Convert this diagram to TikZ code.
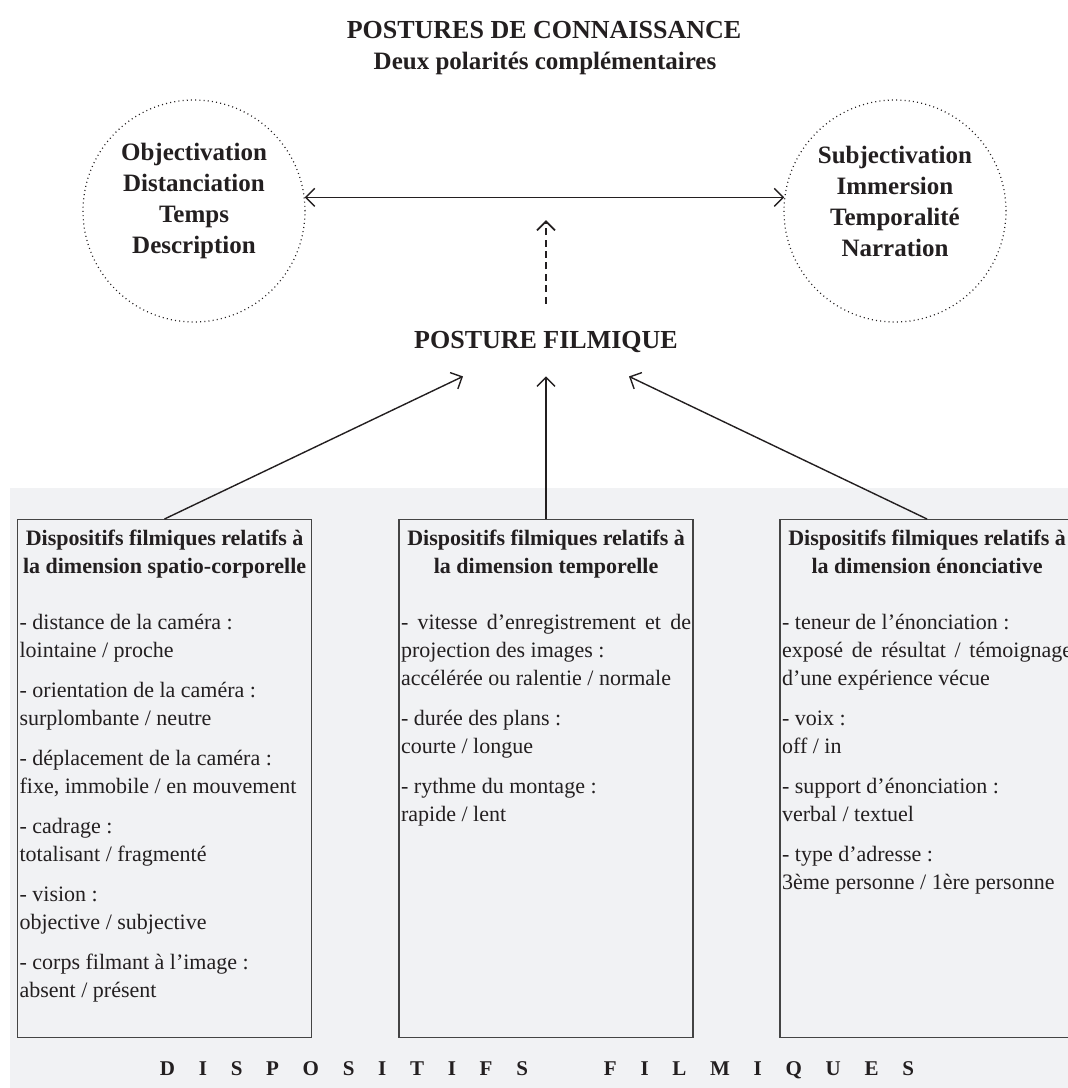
\documentclass[tikz,border=0pt]{standalone}
\usepackage{fontspec}
\setmainfont{Liberation Serif}
\newfontfamily\espace[LetterSpace=113]{Liberation Serif}
\usetikzlibrary{arrows.meta}

\definecolor{encre}{HTML}{231F20}
\definecolor{fond}{HTML}{F1F2F4}
\definecolor{cadre}{HTML}{444444}

\newcommand{\justif}{\parindent=0pt\leftskip=0pt\rightskip=0pt\spaceskip=0pt\xspaceskip=0pt\parfillskip=0pt plus 1fil\parskip=0pt}
\newcommand{\entete}[2]{{\centering\bfseries #1\\#2\par}\parskip=6pt\vspace{8pt}}

\tikzset{
  pole/.style={circle, draw=encre, dash pattern=on 0.5pt off 1.6pt, line width=0.6pt, minimum size=111pt, inner sep=0pt},
  poletxt/.style={align=center, font=\fontsize{12.5}{15.5}\selectfont\bfseries},
  titre/.style={font=\fontsize{13}{16}\selectfont\bfseries},
  boite/.style={rectangle, draw=cadre, line width=0.6pt, minimum width=147pt, minimum height=259pt, anchor=north, inner sep=0pt},
  contenu/.style={anchor=north west, text width=145pt, inner xsep=1pt, inner ysep=0pt, font=\fontsize{11}{14}\selectfont}
}

\begin{document}
\begin{tikzpicture}[x=0.5pt, y=-0.5pt, every node/.style={text=encre}, >={Straight Barb[length=4.5pt,width=9pt]}, line width=0.7pt, draw=encre]
	\useasboundingbox (0,0) rectangle (1068,1088);
	\clip (0,0) rectangle (1068,1088);
	\fill[fond] (10,488) rectangle (1068,1088);

	% Draw the titles
	\node[titre] (titre) at (544,30) {POSTURES DE CONNAISSANCE};
	\node[titre, font=\fontsize{12.5}{15}\selectfont\bfseries] (soustitre) at (545,63) {Deux polarités complémentaires};

	% Draw the two poles
	\node[pole] (obj) at (194,211) {};
	\node[pole] (subj) at (895,211) {};
	\node[poletxt] (objtxt) at (194,201) {Objectivation\\Distanciation\\Temps\\Description};
	\node[poletxt] (subjtxt) at (895,201) {Subjectivation\\Immersion\\Temporalité\\Narration};
	\draw[<->] (obj.7) -- (subj.173);

	% Draw the filmic posture
	\node[titre, inner ysep=11.5pt] (posture) at (546,342) {POSTURE FILMIQUE};
	\coordinate (haut) at (546,220);
	\draw[->, dash pattern=on 3.5pt off 2.2pt, line width=0.9pt] ([yshift=2pt]posture.north) -- (haut);

	% Draw the boxes
	\node[boite] (box1) at (164.5,519) {};
	\node[boite] (box2) at (546,519) {};
	\node[boite] (box3) at (927,519) {};

	\draw[->] (box1.north) -- ([xshift=-41.5pt]posture.south);
	\draw[->] (box2.north) -- (posture.south);
	\draw[->] (box3.north) -- ([xshift=41.5pt]posture.south);

	\node[contenu] (txt1) at ([yshift=-5pt]box1.north west) {\justif
		\entete{Dispositifs filmiques relatifs à}{la dimension spatio-corporelle}
		- distance de la caméra :\newline lointaine / proche\par
		- orientation de la caméra :\newline surplombante / neutre\par
		- déplacement de la caméra :\newline fixe, immobile / en mouvement\par
		- cadrage :\newline totalisant / fragmenté\par
		- vision :\newline objective / subjective\par
		- corps filmant à l’image :\newline absent / présent\par};
	\node[contenu] (txt2) at ([yshift=-5pt]box2.north west) {\justif
		\entete{Dispositifs filmiques relatifs à}{la dimension temporelle}
		- vitesse d’enregistrement et de\linebreak projection des images :\newline accélérée ou ralentie / normale\par
		- durée des plans :\newline courte / longue\par
		- rythme du montage :\newline rapide / lent\par};
	\node[contenu] (txt3) at ([yshift=-5pt]box3.north west) {\justif
		\entete{Dispositifs filmiques relatifs à}{la dimension énonciative}
		- teneur de l’énonciation :\newline exposé de résultat / témoignage\linebreak d’une expérience vécue\par
		- voix :\newline off / in\par
		- support d’énonciation :\newline verbal / textuel\par
		- type d’adresse :\newline 3ème personne / 1ère personne\par};

	\node[font=\espace\fontsize{10.5}{12}\selectfont\bfseries] (pied) at (537,1070) {DISPOSITIFS\hspace{38pt}FILMIQUES};
\end{tikzpicture}
\end{document}
